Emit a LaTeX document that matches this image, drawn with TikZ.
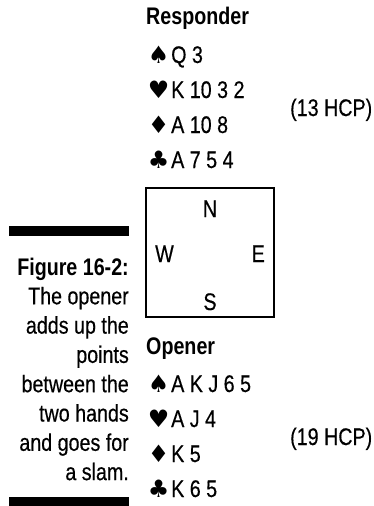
\documentclass[tikz,border=0pt]{standalone}
\usepackage{fontspec}
\setmainfont{Liberation Sans}[UprightFeatures={FakeStretch=0.82, FakeBold=0.4}, BoldFeatures={FakeStretch=0.82}]
\newfontfamily\suitfont{DejaVu Sans}
\usepackage{tikz}
\usetikzlibrary{positioning}

\newcommand{\cardrow}[2]{\makebox[25pt][c]{\suitfont\fontsize{24}{24}\selectfont #1}#2}

\tikzset{
    txt/.style={inner sep=0pt, font=\fontsize{24}{28}\selectfont},
    hdr/.style={txt, anchor=base west, font=\fontsize{24}{28}\selectfont\bfseries},
    cards/.style={txt, anchor=base west},
    capline/.style={txt, anchor=base east},
}

\begin{document}
\begin{tikzpicture}[x=1pt, y=-1pt]
    \useasboundingbox (0,0) rectangle (374,506);

    % Responder hand (north)
    \node[hdr] (resp) at (146,24) {Responder};
    \foreach \s/\c [count=\i] in {\char"2660/Q 3, \char"2665/K 10 3 2, \char"2666/A 10 8, \char"2663/A 7 5 4}
        \node[cards] (r\i) at ({146}, {63+35*(\i-1)}) {\cardrow{\s}{\c}};
    \node[cards] (rhcp) at (290,116) {(13 HCP)};

    % Table
    \draw[line width=1.2pt] (146,188) rectangle (274,317);
    \node[txt, anchor=base] (north) at (210,217) {N};
    \node[txt, anchor=base west] (west) at (155,262) {W};
    \node[txt, anchor=base east] (east) at (265,262) {E};
    \node[txt, anchor=base] (south) at (210,310) {S};

    % Opener hand (south)
    \node[hdr] (open) at (146,354) {Opener};
    \foreach \s/\c [count=\i] in {\char"2660/A K J 6 5, \char"2665/A J 4, \char"2666/K 5, \char"2663/K 6 5}
        \node[cards] (o\i) at ({146}, {392+35*(\i-1)}) {\cardrow{\s}{\c}};
    \node[cards] (ohcp) at (290,445) {(19 HCP)};

    % Caption with bars
    \fill (9,226) rectangle (129,236);
    \node[capline, font=\fontsize{24}{28}\selectfont\bfseries] (fig) at (129,275) {Figure 16-2:};
    \foreach \ln [count=\i] in {The opener, adds up the, points, between the, two hands, and goes for, a slam.}
        \node[capline] (cap\i) at ({129}, {275+29.3*\i}) {\ln};
    \fill (9,497) rectangle (129,506);

\end{tikzpicture}
\end{document}
